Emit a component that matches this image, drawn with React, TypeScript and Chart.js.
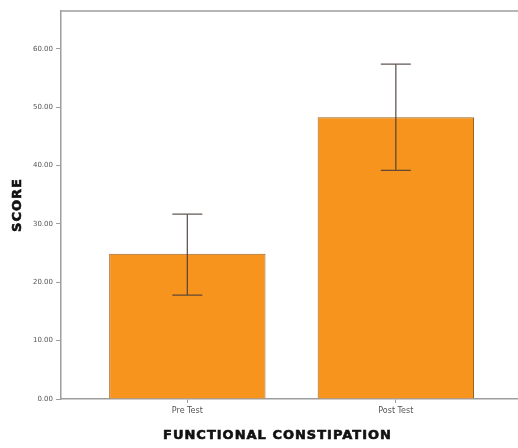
import React, { useEffect, useRef } from "react";
import { Chart, registerables } from "chart.js";

Chart.register(...registerables);

const categories = ["Pre Test", "Post Test"];
const meanScores = [24.9, 48.3];
const errLower = [17.8, 39.2];
const errUpper = [31.7, 57.4];
const yTickValues = [0, 10, 20, 30, 40, 50, 60];
const xTitle = "FUNCTIONAL CONSTIPATION";
const yTitle = "SCORE";

const AXIS_COLOR = "#9e9e9e";
const BAR_COLOR = "#f7941d";
const BAR_BORDER = "#9a6426";
const ERR_COLOR = "rgba(70,60,55,0.85)";
const TITLE_FONT = "bold 13px 'DejaVu Sans', sans-serif";

const framePlugin = {
  id: "frameAndErrors",
  afterDatasetsDraw(chart: any) {
    const { ctx, chartArea, scales } = chart;
    const x = scales.x;
    const y = scales.y;
    ctx.save();
    ctx.strokeStyle = AXIS_COLOR;
    ctx.lineWidth = 1.5;
    ctx.beginPath();
    ctx.moveTo(chartArea.left, chartArea.top);
    ctx.lineTo(chartArea.right, chartArea.top);
    ctx.stroke();
    ctx.strokeStyle = ERR_COLOR;
    ctx.lineWidth = 1.3;
    categories.forEach((_, i) => {
      const cx = x.getPixelForValue(i);
      const yl = y.getPixelForValue(errLower[i]);
      const yh = y.getPixelForValue(errUpper[i]);
      const cap = 15;
      ctx.beginPath();
      ctx.moveTo(cx, yl);
      ctx.lineTo(cx, yh);
      ctx.moveTo(cx - cap, yl);
      ctx.lineTo(cx + cap, yl);
      ctx.moveTo(cx - cap, yh);
      ctx.lineTo(cx + cap, yh);
      ctx.stroke();
    });
    ctx.restore();
  },
  afterDraw(chart: any) {
    const { ctx, chartArea, scales } = chart;
    ctx.save();
    ctx.font = TITLE_FONT;
    (ctx as any).letterSpacing = "1px";
    ctx.fillStyle = "#111";
    ctx.strokeStyle = "#111";
    ctx.lineWidth = 0.6;
    ctx.textAlign = "center";
    ctx.textBaseline = "middle";
    // x title
    const xs = scales.x;
    const xc = (xs.left + xs.right) / 2 - 12;
    const xy = xs.bottom - 12.5;
    ctx.fillText(xTitle, xc, xy);
    ctx.strokeText(xTitle, xc, xy);
    // y title
    const ys = scales.y;
    const yc = (chartArea.top + chartArea.bottom) / 2;
    ctx.translate(ys.left + 18, yc);
    ctx.rotate(-Math.PI / 2);
    ctx.fillText(yTitle, 0, 0);
    ctx.strokeText(yTitle, 0, 0);
    ctx.restore();
  },
};

export default function App() {
  const ref = useRef<HTMLCanvasElement | null>(null);

  useEffect(() => {
    if (!ref.current) return;
    const chart = new Chart(ref.current, {
      type: "bar",
      data: {
        datasets: [
          {
            data: categories.map((_, i) => ({ x: i, y: meanScores[i] })),
            backgroundColor: BAR_COLOR,
            borderColor: BAR_BORDER,
            borderWidth: 1,
            barPercentage: 0.75,
            categoryPercentage: 1,
          },
        ],
      },
      options: {
        responsive: false,
        animation: false,
        devicePixelRatio: 1,
        layout: { padding: { top: 11, right: 0, left: 0, bottom: 0 } },
        plugins: {
          legend: { display: false },
          tooltip: { enabled: false },
        },
        scales: {
          x: {
            type: "linear",
            offset: false,
            min: -0.606,
            max: 1.586,
            afterBuildTicks: (scale: any) => {
              scale.ticks = categories.map((_, i) => ({ value: i }));
            },
            afterFit: (scale: any) => {
              scale.height = 49;
            },
            ticks: {
              callback: (v: any) => categories[v] ?? "",
              color: "#555",
              font: { family: "DejaVu Sans", size: 8 },
              padding: 3,
              maxRotation: 0,
            },
            grid: {
              offset: false,
              drawOnChartArea: false,
              drawTicks: true,
              tickLength: 4,
              color: AXIS_COLOR,
            },
            border: { display: true, color: AXIS_COLOR, width: 1.5 },
            title: { display: false },
          },
          y: {
            type: "linear",
            min: 0,
            max: 66.5,
            afterBuildTicks: (scale: any) => {
              scale.ticks = yTickValues.map((v) => ({ value: v }));
            },
            afterFit: (scale: any) => {
              scale.width = 61;
            },
            ticks: {
              callback: (v: any) => Number(v).toFixed(2),
              color: "#555",
              font: { family: "DejaVu Sans", size: 7 },
              padding: 3,
            },
            grid: {
              drawOnChartArea: false,
              drawTicks: true,
              tickLength: 5,
              color: AXIS_COLOR,
            },
            border: { display: true, color: AXIS_COLOR, width: 1.5 },
            title: { display: false },
          },
        },
      },
      plugins: [framePlugin],
    } as any);
    return () => chart.destroy();
  }, []);

  return (
    <div
      style={{
        position: "fixed",
        left: 0,
        top: 0,
        width: 518,
        height: 448,
        background: "#fff",
      }}
    >
      <canvas ref={ref} width={518} height={448} />
    </div>
  );
}
